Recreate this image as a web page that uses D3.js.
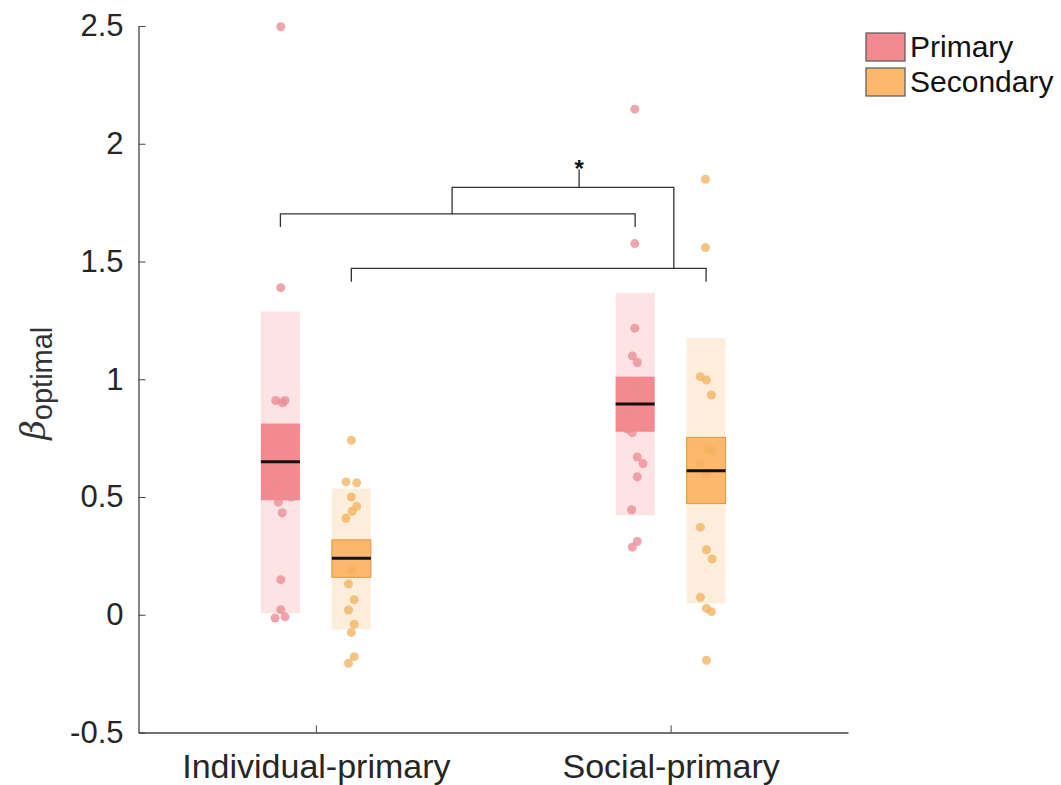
<!DOCTYPE html>
<html>
<head>
<meta charset="utf-8">
<script src="https://cdn.jsdelivr.net/npm/d3@7"></script>
<style>
  html, body { margin: 0; padding: 0; background: #fff; }
  svg { display: block; }
</style>
</head>
<body>
<svg id="chart" width="1061" height="785"></svg>
<script>
// ---------------- data ----------------
const categories = ["Individual-primary", "Social-primary"];
const seriesNames = ["Primary", "Secondary"];
const yTicks = [-0.5, 0, 0.5, 1, 1.5, 2, 2.5];
const yTickLabels = ["-0.5", "0", "0.5", "1", "1.5", "2", "2.5"];

// individual points (values) per group
const indPrimaryVals = [2.497, 1.389, 0.910, 0.900, 0.910, 0.564, 0.521, 0.507, 0.500, 0.478, 0.433, 0.149, 0.021, -0.014, -0.009];
const indPrimaryJitter = [0.001, 0.001, -0.013, 0.006, 0.013, -0.017, -0.031, 0.020, 0.031, -0.006, 0.005, 0.001, 0.001, -0.015, 0.013];
const indSecondaryVals = [0.741, 0.564, 0.560, 0.500, 0.460, 0.439, 0.410, 0.190, 0.131, 0.064, 0.020, -0.040, -0.075, -0.178, -0.206];
const indSecondaryJitter = [0, -0.015, 0.015, 0, 0.015, 0.002, -0.015, 0, -0.008, 0.008, -0.008, 0.008, 0, 0.008, -0.008];
const socPrimaryVals = [2.147, 1.576, 1.217, 1.099, 1.071, 0.964, 0.886, 0.859, 0.788, 0.774, 0.670, 0.642, 0.586, 0.446, 0.311, 0.287];
const socPrimaryJitter = [-0.001, -0.001, -0.001, -0.008, 0.006, -0.001, 0.013, -0.017, -0.022, -0.008, 0.006, 0.022, 0.006, -0.010, 0.006, -0.008];
const socSecondaryVals = [1.849, 1.559, 1.011, 0.997, 0.933, 0.706, 0.696, 0.642, 0.602, 0.372, 0.276, 0.237, 0.074, 0.027, 0.013, -0.193];
const socSecondaryJitter = [-0.002, -0.002, -0.016, 0.001, 0.015, 0.003, 0.017, -0.016, 0.001, -0.016, 0.001, 0.017, -0.016, 0.001, 0.015, 0.001];

// summary stats: [Individual-primary, Social-primary] for each series
const primaryMean = [0.650, 0.895];
const primarySemLo = [0.486, 0.777];
const primarySemHi = [0.812, 1.011];
const primarySdLo = [0.007, 0.422];
const primarySdHi = [1.288, 1.366];

const secondaryMean = [0.240, 0.611];
const secondarySemLo = [0.159, 0.472];
const secondarySemHi = [0.318, 0.753];
const secondarySdLo = [-0.061, 0.048];
const secondarySdHi = [0.536, 1.175];

// significance bracket (x in category units, y in data units)
const bracketPrimaryX = [0.9, 1.9];
const bracketPrimaryY = [1.702, 1.646];
const bracketSecondaryX = [1.1, 2.1];
const bracketSecondaryY = [1.471, 1.414];
const bracketConnectX = [1.384, 2.009];
const bracketConnectY = 1.815;
const bracketStemX = 1.742;
const bracketStemTop = 1.891;
const sigLabel = "*";

// ---------------- layout ----------------
const svg = d3.select("#chart");
const x = d3.scaleLinear().domain([0.5, 2.5]).range([138.5, 848]);
const y = d3.scaleLinear().domain([-0.5, 2.5]).range([732.5, 26]);
const groupOffset = 0.1;
const boxHalf = 0.055;

const colors = {
  Primary: { light: "#fde3e3", dark: "#f28a8f", darkEdge: "none", point: "#ea8c93" },
  Secondary: { light: "#fdeedc", dark: "#fcb86d", darkEdge: "#e0963f", point: "#f1b35f" }
};

const groups = [
  { series: "Primary", cat: 1, off: -groupOffset, vals: indPrimaryVals, jit: indPrimaryJitter,
    mean: primaryMean[0], semLo: primarySemLo[0], semHi: primarySemHi[0], sdLo: primarySdLo[0], sdHi: primarySdHi[0] },
  { series: "Secondary", cat: 1, off: groupOffset, vals: indSecondaryVals, jit: indSecondaryJitter,
    mean: secondaryMean[0], semLo: secondarySemLo[0], semHi: secondarySemHi[0], sdLo: secondarySdLo[0], sdHi: secondarySdHi[0] },
  { series: "Primary", cat: 2, off: -groupOffset, vals: socPrimaryVals, jit: socPrimaryJitter,
    mean: primaryMean[1], semLo: primarySemLo[1], semHi: primarySemHi[1], sdLo: primarySdLo[1], sdHi: primarySdHi[1] },
  { series: "Secondary", cat: 2, off: groupOffset, vals: socSecondaryVals, jit: socSecondaryJitter,
    mean: secondaryMean[1], semLo: secondarySemLo[1], semHi: secondarySemHi[1], sdLo: secondarySdLo[1], sdHi: secondarySdHi[1] }
];

const plot = svg.append("g");

groups.forEach(g => {
  const c = colors[g.series];
  const cx = g.cat + g.off;
  const x0 = x(cx - boxHalf), x1 = x(cx + boxHalf);
  plot.append("rect")
    .attr("x", x0).attr("width", x1 - x0)
    .attr("y", y(g.sdHi)).attr("height", y(g.sdLo) - y(g.sdHi))
    .attr("fill", c.light);
  plot.append("rect")
    .attr("x", x0).attr("width", x1 - x0)
    .attr("y", y(g.semHi)).attr("height", y(g.semLo) - y(g.semHi))
    .attr("fill", c.dark)
    .attr("stroke", c.darkEdge).attr("stroke-width", 1);
});

groups.forEach(g => {
  const c = colors[g.series];
  const cx = g.cat + g.off;
  plot.selectAll(null)
    .data(g.vals.map((v, i) => ({ v, j: g.jit[i] })))
    .enter().append("circle")
    .attr("cx", d => x(cx + d.j))
    .attr("cy", d => y(d.v))
    .attr("r", 4.5)
    .attr("fill", c.point)
    .attr("fill-opacity", 0.78);
});

groups.forEach(g => {
  const cx = g.cat + g.off;
  plot.append("line")
    .attr("x1", x(cx - boxHalf)).attr("x2", x(cx + boxHalf))
    .attr("y1", y(g.mean)).attr("y2", y(g.mean))
    .attr("stroke", "#111").attr("stroke-width", 3);
});

// ---------------- axes ----------------
const axisColor = "#444";
const yAxis = d3.axisLeft(y).tickValues(yTicks).tickFormat((d, i) => yTickLabels[i]).tickSizeInner(-7).tickSizeOuter(0).tickPadding(15);
const yg = svg.append("g").attr("transform", `translate(${x.range()[0]},0)`).call(yAxis);
yg.select(".domain").attr("stroke", axisColor).attr("stroke-width", 1.3);
yg.selectAll(".tick line").attr("stroke", axisColor);
yg.selectAll(".tick text").attr("font-family", "Liberation Sans, Arial, sans-serif").attr("font-size", 31).attr("fill", "#262626");

const xAxis = d3.axisBottom(x).tickValues([1, 2]).tickFormat((d, i) => categories[i]).tickSizeInner(-7).tickSizeOuter(0).tickPadding(21);
const xg = svg.append("g").attr("transform", `translate(0,${y.range()[0]})`).call(xAxis);
xg.select(".domain").attr("stroke", axisColor).attr("stroke-width", 1.3);
xg.selectAll(".tick line").attr("stroke", axisColor);
xg.selectAll(".tick text").attr("font-family", "Liberation Sans, Arial, sans-serif").attr("font-size", 34).attr("fill", "#262626");

// y-axis label: beta_optimal
const ylab = svg.append("text")
  .attr("transform", `translate(45,${(y.range()[0] + y.range()[1]) / 2 + 4}) rotate(-90)`)
  .attr("text-anchor", "middle")
  .attr("fill", "#333");
ylab.append("tspan").text("β")
  .attr("font-family", "DejaVu Serif, serif").attr("font-style", "italic").attr("font-weight", 300)
  .attr("font-size", 34);
ylab.append("tspan").text("optimal")
  .attr("dy", 7)
  .attr("font-family", "Liberation Sans, Arial, sans-serif")
  .attr("font-size", 29);

// ---------------- significance bracket ----------------
const br = svg.append("g").attr("stroke", "#333").attr("stroke-width", 1.3).attr("fill", "none");
const line = d3.line().x(d => x(d[0])).y(d => y(d[1]));
br.append("path").attr("d", line([
  [bracketPrimaryX[0], bracketPrimaryY[1]], [bracketPrimaryX[0], bracketPrimaryY[0]],
  [bracketPrimaryX[1], bracketPrimaryY[0]], [bracketPrimaryX[1], bracketPrimaryY[1]]]));
br.append("path").attr("d", line([
  [bracketSecondaryX[0], bracketSecondaryY[1]], [bracketSecondaryX[0], bracketSecondaryY[0]],
  [bracketSecondaryX[1], bracketSecondaryY[0]], [bracketSecondaryX[1], bracketSecondaryY[1]]]));
br.append("path").attr("d", line([
  [bracketConnectX[0], bracketPrimaryY[0]], [bracketConnectX[0], bracketConnectY],
  [bracketConnectX[1], bracketConnectY], [bracketConnectX[1], bracketSecondaryY[0]]]));
br.append("path").attr("d", line([[bracketStemX, bracketConnectY], [bracketStemX, bracketStemTop]]));
svg.append("text")
  .attr("x", x(bracketStemX)).attr("y", y(bracketStemTop) + 8)
  .attr("text-anchor", "middle")
  .attr("font-family", "Liberation Sans, Arial, sans-serif")
  .attr("font-weight", "bold").attr("font-size", 24).attr("fill", "#111")
  .text(sigLabel);

// ---------------- legend ----------------
const legend = svg.append("g").attr("transform", "translate(866,33)");
seriesNames.forEach((name, i) => {
  const gI = legend.append("g").attr("transform", `translate(0,${i * 35})`);
  gI.append("rect").attr("x", 0).attr("y", 0).attr("width", 39).attr("height", 28)
    .attr("fill", colors[name].dark).attr("stroke", "#555").attr("stroke-width", 1.2);
  gI.append("text").attr("x", 44).attr("y", 24)
    .attr("font-family", "Liberation Sans, Arial, sans-serif").attr("font-size", 30)
    .attr("fill", "#111").text(name);
});
</script>
</body>
</html>
